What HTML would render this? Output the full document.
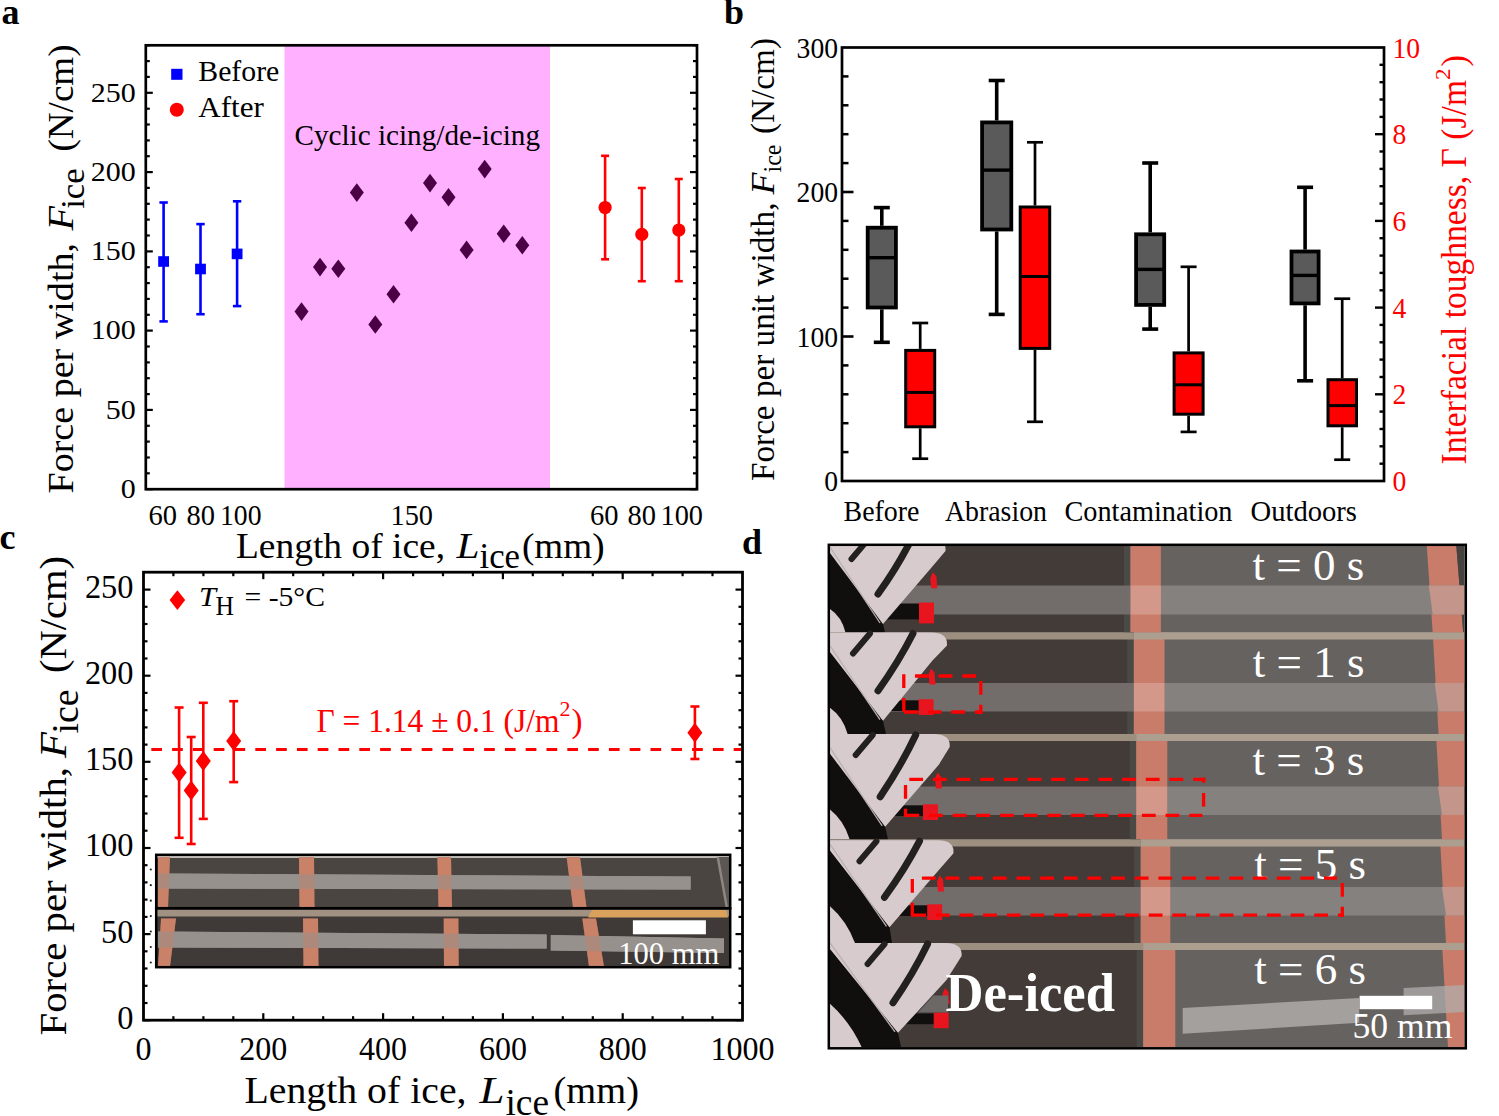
<!DOCTYPE html>
<html><head><meta charset="utf-8"><style>
html,body{margin:0;padding:0;background:#fff;overflow:hidden;width:1499px;height:1116px;}
svg{display:block;font-family:"Liberation Serif", serif;}
</style></head><body>
<svg width="1499" height="1116" viewBox="0 0 1499 1116">
<rect width="1499" height="1116" fill="#fff"/>
<text x="1.5" y="24.0" font-size="36" font-weight="bold">a</text>
<text x="724.0" y="24.0" font-size="36" font-weight="bold">b</text>
<text x="-0.5" y="548.5" font-size="36" font-weight="bold">c</text>
<text x="742.0" y="554.0" font-size="36" font-weight="bold">d</text>
<rect x="284.5" y="45.3" width="265.5" height="443.9" fill="#ffb1ff"/>
<line x1="145.8" y1="489.2" x2="152.8" y2="489.2" stroke="#000" stroke-width="2.2" />
<line x1="697.0" y1="489.2" x2="690.0" y2="489.2" stroke="#000" stroke-width="2.2" />
<line x1="145.8" y1="473.3" x2="149.8" y2="473.3" stroke="#000" stroke-width="2.2" />
<line x1="697.0" y1="473.3" x2="693.0" y2="473.3" stroke="#000" stroke-width="2.2" />
<line x1="145.8" y1="457.5" x2="149.8" y2="457.5" stroke="#000" stroke-width="2.2" />
<line x1="697.0" y1="457.5" x2="693.0" y2="457.5" stroke="#000" stroke-width="2.2" />
<line x1="145.8" y1="441.6" x2="149.8" y2="441.6" stroke="#000" stroke-width="2.2" />
<line x1="697.0" y1="441.6" x2="693.0" y2="441.6" stroke="#000" stroke-width="2.2" />
<line x1="145.8" y1="425.8" x2="149.8" y2="425.8" stroke="#000" stroke-width="2.2" />
<line x1="697.0" y1="425.8" x2="693.0" y2="425.8" stroke="#000" stroke-width="2.2" />
<line x1="145.8" y1="409.9" x2="152.8" y2="409.9" stroke="#000" stroke-width="2.2" />
<line x1="697.0" y1="409.9" x2="690.0" y2="409.9" stroke="#000" stroke-width="2.2" />
<line x1="145.8" y1="394.1" x2="149.8" y2="394.1" stroke="#000" stroke-width="2.2" />
<line x1="697.0" y1="394.1" x2="693.0" y2="394.1" stroke="#000" stroke-width="2.2" />
<line x1="145.8" y1="378.2" x2="149.8" y2="378.2" stroke="#000" stroke-width="2.2" />
<line x1="697.0" y1="378.2" x2="693.0" y2="378.2" stroke="#000" stroke-width="2.2" />
<line x1="145.8" y1="362.4" x2="149.8" y2="362.4" stroke="#000" stroke-width="2.2" />
<line x1="697.0" y1="362.4" x2="693.0" y2="362.4" stroke="#000" stroke-width="2.2" />
<line x1="145.8" y1="346.5" x2="149.8" y2="346.5" stroke="#000" stroke-width="2.2" />
<line x1="697.0" y1="346.5" x2="693.0" y2="346.5" stroke="#000" stroke-width="2.2" />
<line x1="145.8" y1="330.6" x2="152.8" y2="330.6" stroke="#000" stroke-width="2.2" />
<line x1="697.0" y1="330.6" x2="690.0" y2="330.6" stroke="#000" stroke-width="2.2" />
<line x1="145.8" y1="314.8" x2="149.8" y2="314.8" stroke="#000" stroke-width="2.2" />
<line x1="697.0" y1="314.8" x2="693.0" y2="314.8" stroke="#000" stroke-width="2.2" />
<line x1="145.8" y1="298.9" x2="149.8" y2="298.9" stroke="#000" stroke-width="2.2" />
<line x1="697.0" y1="298.9" x2="693.0" y2="298.9" stroke="#000" stroke-width="2.2" />
<line x1="145.8" y1="283.1" x2="149.8" y2="283.1" stroke="#000" stroke-width="2.2" />
<line x1="697.0" y1="283.1" x2="693.0" y2="283.1" stroke="#000" stroke-width="2.2" />
<line x1="145.8" y1="267.2" x2="149.8" y2="267.2" stroke="#000" stroke-width="2.2" />
<line x1="697.0" y1="267.2" x2="693.0" y2="267.2" stroke="#000" stroke-width="2.2" />
<line x1="145.8" y1="251.4" x2="152.8" y2="251.4" stroke="#000" stroke-width="2.2" />
<line x1="697.0" y1="251.4" x2="690.0" y2="251.4" stroke="#000" stroke-width="2.2" />
<line x1="145.8" y1="235.5" x2="149.8" y2="235.5" stroke="#000" stroke-width="2.2" />
<line x1="697.0" y1="235.5" x2="693.0" y2="235.5" stroke="#000" stroke-width="2.2" />
<line x1="145.8" y1="219.6" x2="149.8" y2="219.6" stroke="#000" stroke-width="2.2" />
<line x1="697.0" y1="219.6" x2="693.0" y2="219.6" stroke="#000" stroke-width="2.2" />
<line x1="145.8" y1="203.8" x2="149.8" y2="203.8" stroke="#000" stroke-width="2.2" />
<line x1="697.0" y1="203.8" x2="693.0" y2="203.8" stroke="#000" stroke-width="2.2" />
<line x1="145.8" y1="187.9" x2="149.8" y2="187.9" stroke="#000" stroke-width="2.2" />
<line x1="697.0" y1="187.9" x2="693.0" y2="187.9" stroke="#000" stroke-width="2.2" />
<line x1="145.8" y1="172.1" x2="152.8" y2="172.1" stroke="#000" stroke-width="2.2" />
<line x1="697.0" y1="172.1" x2="690.0" y2="172.1" stroke="#000" stroke-width="2.2" />
<line x1="145.8" y1="156.2" x2="149.8" y2="156.2" stroke="#000" stroke-width="2.2" />
<line x1="697.0" y1="156.2" x2="693.0" y2="156.2" stroke="#000" stroke-width="2.2" />
<line x1="145.8" y1="140.4" x2="149.8" y2="140.4" stroke="#000" stroke-width="2.2" />
<line x1="697.0" y1="140.4" x2="693.0" y2="140.4" stroke="#000" stroke-width="2.2" />
<line x1="145.8" y1="124.5" x2="149.8" y2="124.5" stroke="#000" stroke-width="2.2" />
<line x1="697.0" y1="124.5" x2="693.0" y2="124.5" stroke="#000" stroke-width="2.2" />
<line x1="145.8" y1="108.7" x2="149.8" y2="108.7" stroke="#000" stroke-width="2.2" />
<line x1="697.0" y1="108.7" x2="693.0" y2="108.7" stroke="#000" stroke-width="2.2" />
<line x1="145.8" y1="92.8" x2="152.8" y2="92.8" stroke="#000" stroke-width="2.2" />
<line x1="697.0" y1="92.8" x2="690.0" y2="92.8" stroke="#000" stroke-width="2.2" />
<line x1="145.8" y1="76.9" x2="149.8" y2="76.9" stroke="#000" stroke-width="2.2" />
<line x1="697.0" y1="76.9" x2="693.0" y2="76.9" stroke="#000" stroke-width="2.2" />
<line x1="145.8" y1="61.1" x2="149.8" y2="61.1" stroke="#000" stroke-width="2.2" />
<line x1="697.0" y1="61.1" x2="693.0" y2="61.1" stroke="#000" stroke-width="2.2" />
<line x1="145.8" y1="45.2" x2="149.8" y2="45.2" stroke="#000" stroke-width="2.2" />
<line x1="697.0" y1="45.2" x2="693.0" y2="45.2" stroke="#000" stroke-width="2.2" />
<rect x="145.8" y="45.3" width="551.2" height="443.9" fill="none" stroke="#000" stroke-width="2.7"/>
<text x="135.8" y="498.0" font-size="28" text-anchor="end" textLength="15.0" lengthAdjust="spacingAndGlyphs">0</text>
<text x="135.8" y="418.7" font-size="28" text-anchor="end" textLength="30.0" lengthAdjust="spacingAndGlyphs">50</text>
<text x="135.8" y="339.4" font-size="28" text-anchor="end" textLength="45.0" lengthAdjust="spacingAndGlyphs">100</text>
<text x="135.8" y="260.2" font-size="28" text-anchor="end" textLength="45.0" lengthAdjust="spacingAndGlyphs">150</text>
<text x="135.8" y="180.9" font-size="28" text-anchor="end" textLength="45.0" lengthAdjust="spacingAndGlyphs">200</text>
<text x="135.8" y="101.6" font-size="28" text-anchor="end" textLength="45.0" lengthAdjust="spacingAndGlyphs">250</text>
<text x="148.5" y="524.5" font-size="29" textLength="28.5" lengthAdjust="spacingAndGlyphs">60</text>
<text x="186.5" y="524.5" font-size="29" textLength="28.5" lengthAdjust="spacingAndGlyphs">80</text>
<text x="220.0" y="524.5" font-size="29" textLength="41.5" lengthAdjust="spacingAndGlyphs">100</text>
<text x="390.5" y="524.5" font-size="29" textLength="42.5" lengthAdjust="spacingAndGlyphs">150</text>
<text x="590.0" y="524.5" font-size="29" textLength="28.5" lengthAdjust="spacingAndGlyphs">60</text>
<text x="627.5" y="524.5" font-size="29" textLength="28.5" lengthAdjust="spacingAndGlyphs">80</text>
<text x="660.5" y="524.5" font-size="29" textLength="42.5" lengthAdjust="spacingAndGlyphs">100</text>
<text x="236.0" y="558.3" font-size="36.5" textLength="209.0" lengthAdjust="spacingAndGlyphs">Length of ice,</text>
<text x="456.5" y="558.3" font-size="36.5" font-style="italic" textLength="23.0" lengthAdjust="spacingAndGlyphs">L</text>
<text x="479.5" y="567.9" font-size="35" textLength="40.5" lengthAdjust="spacingAndGlyphs">ice</text>
<text x="522.0" y="558.3" font-size="36.5" textLength="82.5" lengthAdjust="spacingAndGlyphs">(mm)</text>
<text x="73.0" y="493.5" font-size="36" textLength="250.5" lengthAdjust="spacingAndGlyphs" transform="rotate(-90 73.0 493.5)">Force per width,</text>
<text x="73.0" y="230.5" font-size="36" font-style="italic" textLength="24.5" lengthAdjust="spacingAndGlyphs" transform="rotate(-90 73.0 230.5)">F</text>
<text x="84.0" y="208.8" font-size="34" textLength="40.3" lengthAdjust="spacingAndGlyphs" transform="rotate(-90 84.0 208.8)">ice</text>
<text x="73.0" y="151.5" font-size="36" textLength="107.0" lengthAdjust="spacingAndGlyphs" transform="rotate(-90 73.0 151.5)">(N/cm)</text>
<rect x="171.2" y="68.8" width="11.3" height="11.0" fill="#0000ff"/>
<text x="198.3" y="81.4" font-size="30" textLength="81.0" lengthAdjust="spacingAndGlyphs">Before</text>
<circle cx="176.8" cy="109.8" r="7" fill="#ff0000"/>
<text x="198.3" y="117.0" font-size="30" textLength="65.5" lengthAdjust="spacingAndGlyphs">After</text>
<text x="294.5" y="144.6" font-size="29" textLength="245.5" lengthAdjust="spacingAndGlyphs">Cyclic icing/de-icing</text>
<line x1="163.6" y1="202.5" x2="163.6" y2="321.4" stroke="#0000ff" stroke-width="2.6" />
<line x1="159.4" y1="202.5" x2="167.8" y2="202.5" stroke="#0000ff" stroke-width="2.6" />
<line x1="159.4" y1="321.4" x2="167.8" y2="321.4" stroke="#0000ff" stroke-width="2.6" />
<rect x="158.2" y="256.2" width="10.8" height="10.6" fill="#0000ff"/>
<line x1="200.5" y1="224.1" x2="200.5" y2="314.2" stroke="#0000ff" stroke-width="2.6" />
<line x1="196.3" y1="224.1" x2="204.7" y2="224.1" stroke="#0000ff" stroke-width="2.6" />
<line x1="196.3" y1="314.2" x2="204.7" y2="314.2" stroke="#0000ff" stroke-width="2.6" />
<rect x="195.1" y="263.7" width="10.8" height="10.6" fill="#0000ff"/>
<line x1="237.1" y1="201.3" x2="237.1" y2="306.1" stroke="#0000ff" stroke-width="2.6" />
<line x1="232.9" y1="201.3" x2="241.3" y2="201.3" stroke="#0000ff" stroke-width="2.6" />
<line x1="232.9" y1="306.1" x2="241.3" y2="306.1" stroke="#0000ff" stroke-width="2.6" />
<rect x="231.7" y="248.6" width="10.8" height="10.6" fill="#0000ff"/>
<line x1="605.1" y1="155.8" x2="605.1" y2="259.3" stroke="#ff0000" stroke-width="2.6" />
<line x1="601.1" y1="155.8" x2="609.1" y2="155.8" stroke="#ff0000" stroke-width="2.6" />
<line x1="601.1" y1="259.3" x2="609.1" y2="259.3" stroke="#ff0000" stroke-width="2.6" />
<circle cx="605.1" cy="207.5" r="6.6" fill="#ff0000"/>
<line x1="641.8" y1="188.0" x2="641.8" y2="281.2" stroke="#ff0000" stroke-width="2.6" />
<line x1="637.8" y1="188.0" x2="645.8" y2="188.0" stroke="#ff0000" stroke-width="2.6" />
<line x1="637.8" y1="281.2" x2="645.8" y2="281.2" stroke="#ff0000" stroke-width="2.6" />
<circle cx="641.8" cy="234.4" r="6.6" fill="#ff0000"/>
<line x1="678.8" y1="179.0" x2="678.8" y2="281.2" stroke="#ff0000" stroke-width="2.6" />
<line x1="674.8" y1="179.0" x2="682.8" y2="179.0" stroke="#ff0000" stroke-width="2.6" />
<line x1="674.8" y1="281.2" x2="682.8" y2="281.2" stroke="#ff0000" stroke-width="2.6" />
<circle cx="678.8" cy="230.0" r="6.6" fill="#ff0000"/>
<polygon points="301.5,302.3 308.5,311.6 301.5,320.9 294.5,311.6" fill="#4b0046" />
<polygon points="320.0,257.8 327.0,267.1 320.0,276.4 313.0,267.1" fill="#4b0046" />
<polygon points="338.3,259.5 345.3,268.8 338.3,278.1 331.3,268.8" fill="#4b0046" />
<polygon points="356.8,183.3 363.8,192.6 356.8,201.9 349.8,192.6" fill="#4b0046" />
<polygon points="375.3,315.2 382.3,324.5 375.3,333.8 368.3,324.5" fill="#4b0046" />
<polygon points="393.5,284.9 400.5,294.2 393.5,303.5 386.5,294.2" fill="#4b0046" />
<polygon points="411.4,213.5 418.4,222.8 411.4,232.1 404.4,222.8" fill="#4b0046" />
<polygon points="430.0,173.8 437.0,183.1 430.0,192.4 423.0,183.1" fill="#4b0046" />
<polygon points="448.5,187.9 455.5,197.2 448.5,206.5 441.5,197.2" fill="#4b0046" />
<polygon points="466.6,240.6 473.6,249.9 466.6,259.2 459.6,249.9" fill="#4b0046" />
<polygon points="484.7,159.8 491.7,169.1 484.7,178.4 477.7,169.1" fill="#4b0046" />
<polygon points="503.7,224.5 510.7,233.8 503.7,243.1 496.7,233.8" fill="#4b0046" />
<polygon points="522.3,236.0 529.3,245.3 522.3,254.6 515.3,245.3" fill="#4b0046" />
<line x1="842.0" y1="452.1" x2="848.5" y2="452.1" stroke="#000" stroke-width="2.5" />
<line x1="842.0" y1="423.2" x2="848.5" y2="423.2" stroke="#000" stroke-width="2.5" />
<line x1="842.0" y1="394.3" x2="848.5" y2="394.3" stroke="#000" stroke-width="2.5" />
<line x1="842.0" y1="365.4" x2="848.5" y2="365.4" stroke="#000" stroke-width="2.5" />
<line x1="842.0" y1="336.5" x2="853.5" y2="336.5" stroke="#000" stroke-width="2.6" />
<line x1="842.0" y1="307.6" x2="848.5" y2="307.6" stroke="#000" stroke-width="2.5" />
<line x1="842.0" y1="278.7" x2="848.5" y2="278.7" stroke="#000" stroke-width="2.5" />
<line x1="842.0" y1="249.8" x2="848.5" y2="249.8" stroke="#000" stroke-width="2.5" />
<line x1="842.0" y1="220.9" x2="848.5" y2="220.9" stroke="#000" stroke-width="2.5" />
<line x1="842.0" y1="192.0" x2="853.5" y2="192.0" stroke="#000" stroke-width="2.6" />
<line x1="842.0" y1="163.1" x2="848.5" y2="163.1" stroke="#000" stroke-width="2.5" />
<line x1="842.0" y1="134.2" x2="848.5" y2="134.2" stroke="#000" stroke-width="2.5" />
<line x1="842.0" y1="105.3" x2="848.5" y2="105.3" stroke="#000" stroke-width="2.5" />
<line x1="842.0" y1="76.4" x2="848.5" y2="76.4" stroke="#000" stroke-width="2.5" />
<line x1="1384.0" y1="463.7" x2="1379.5" y2="463.7" stroke="#000" stroke-width="2.4" />
<line x1="1384.0" y1="446.3" x2="1379.5" y2="446.3" stroke="#000" stroke-width="2.4" />
<line x1="1384.0" y1="429.0" x2="1379.5" y2="429.0" stroke="#000" stroke-width="2.4" />
<line x1="1384.0" y1="411.6" x2="1379.5" y2="411.6" stroke="#000" stroke-width="2.4" />
<line x1="1384.0" y1="394.3" x2="1375.0" y2="394.3" stroke="#000" stroke-width="2.4" />
<line x1="1384.0" y1="377.0" x2="1379.5" y2="377.0" stroke="#000" stroke-width="2.4" />
<line x1="1384.0" y1="359.6" x2="1379.5" y2="359.6" stroke="#000" stroke-width="2.4" />
<line x1="1384.0" y1="342.3" x2="1379.5" y2="342.3" stroke="#000" stroke-width="2.4" />
<line x1="1384.0" y1="324.9" x2="1379.5" y2="324.9" stroke="#000" stroke-width="2.4" />
<line x1="1384.0" y1="307.6" x2="1375.0" y2="307.6" stroke="#000" stroke-width="2.4" />
<line x1="1384.0" y1="290.3" x2="1379.5" y2="290.3" stroke="#000" stroke-width="2.4" />
<line x1="1384.0" y1="272.9" x2="1379.5" y2="272.9" stroke="#000" stroke-width="2.4" />
<line x1="1384.0" y1="255.6" x2="1379.5" y2="255.6" stroke="#000" stroke-width="2.4" />
<line x1="1384.0" y1="238.2" x2="1379.5" y2="238.2" stroke="#000" stroke-width="2.4" />
<line x1="1384.0" y1="220.9" x2="1375.0" y2="220.9" stroke="#000" stroke-width="2.4" />
<line x1="1384.0" y1="203.6" x2="1379.5" y2="203.6" stroke="#000" stroke-width="2.4" />
<line x1="1384.0" y1="186.2" x2="1379.5" y2="186.2" stroke="#000" stroke-width="2.4" />
<line x1="1384.0" y1="168.9" x2="1379.5" y2="168.9" stroke="#000" stroke-width="2.4" />
<line x1="1384.0" y1="151.5" x2="1379.5" y2="151.5" stroke="#000" stroke-width="2.4" />
<line x1="1384.0" y1="134.2" x2="1375.0" y2="134.2" stroke="#000" stroke-width="2.4" />
<line x1="1384.0" y1="116.9" x2="1379.5" y2="116.9" stroke="#000" stroke-width="2.4" />
<line x1="1384.0" y1="99.5" x2="1379.5" y2="99.5" stroke="#000" stroke-width="2.4" />
<line x1="1384.0" y1="82.2" x2="1379.5" y2="82.2" stroke="#000" stroke-width="2.4" />
<line x1="1384.0" y1="64.8" x2="1379.5" y2="64.8" stroke="#000" stroke-width="2.4" />
<rect x="842.0" y="47.5" width="542.0" height="433.5" fill="none" stroke="#000" stroke-width="2.7"/>
<text x="838.0" y="491.4" font-size="30" text-anchor="end" textLength="13.8" lengthAdjust="spacingAndGlyphs">0</text>
<text x="838.0" y="346.9" font-size="30" text-anchor="end" textLength="41.4" lengthAdjust="spacingAndGlyphs">100</text>
<text x="838.0" y="202.4" font-size="30" text-anchor="end" textLength="41.4" lengthAdjust="spacingAndGlyphs">200</text>
<text x="838.0" y="57.9" font-size="30" text-anchor="end" textLength="41.4" lengthAdjust="spacingAndGlyphs">300</text>
<text x="1392.5" y="491.0" font-size="30" fill="#ff0000" textLength="13.8" lengthAdjust="spacingAndGlyphs">0</text>
<text x="1392.5" y="404.3" font-size="30" fill="#ff0000" textLength="13.8" lengthAdjust="spacingAndGlyphs">2</text>
<text x="1392.5" y="317.6" font-size="30" fill="#ff0000" textLength="13.8" lengthAdjust="spacingAndGlyphs">4</text>
<text x="1392.5" y="230.9" font-size="30" fill="#ff0000" textLength="13.8" lengthAdjust="spacingAndGlyphs">6</text>
<text x="1392.5" y="144.2" font-size="30" fill="#ff0000" textLength="13.8" lengthAdjust="spacingAndGlyphs">8</text>
<text x="1392.5" y="57.5" font-size="30" fill="#ff0000" textLength="27.6" lengthAdjust="spacingAndGlyphs">10</text>
<line x1="881.8" y1="207.6" x2="881.8" y2="225.8" stroke="#000" stroke-width="3.6" />
<line x1="881.8" y1="309.4" x2="881.8" y2="342.3" stroke="#000" stroke-width="3.6" />
<line x1="873.8" y1="207.6" x2="889.8" y2="207.6" stroke="#000" stroke-width="3.6" />
<line x1="873.8" y1="342.3" x2="889.8" y2="342.3" stroke="#000" stroke-width="3.6" />
<rect x="867.7" y="227.7" width="28.2" height="79.8" fill="#5a5a5a" stroke="#000" stroke-width="3.8"/>
<line x1="867.0" y1="257.7" x2="896.6" y2="257.7" stroke="#000" stroke-width="3.4" />
<line x1="920.2" y1="323.0" x2="920.2" y2="348.9" stroke="#000" stroke-width="2.7" />
<line x1="920.2" y1="428.3" x2="920.2" y2="458.7" stroke="#000" stroke-width="2.7" />
<line x1="912.2" y1="323.0" x2="928.2" y2="323.0" stroke="#000" stroke-width="2.7" />
<line x1="912.2" y1="458.7" x2="928.2" y2="458.7" stroke="#000" stroke-width="2.7" />
<rect x="905.7" y="350.4" width="29.0" height="76.4" fill="#ff0000" stroke="#000" stroke-width="3.0"/>
<line x1="905.4" y1="392.4" x2="935.0" y2="392.4" stroke="#000" stroke-width="3.0" />
<line x1="996.7" y1="80.5" x2="996.7" y2="120.5" stroke="#000" stroke-width="3.6" />
<line x1="996.7" y1="231.4" x2="996.7" y2="314.4" stroke="#000" stroke-width="3.6" />
<line x1="988.7" y1="80.5" x2="1004.7" y2="80.5" stroke="#000" stroke-width="3.6" />
<line x1="988.7" y1="314.4" x2="1004.7" y2="314.4" stroke="#000" stroke-width="3.6" />
<rect x="982.1" y="122.4" width="29.2" height="107.1" fill="#5a5a5a" stroke="#000" stroke-width="3.8"/>
<line x1="981.4" y1="170.1" x2="1012.0" y2="170.1" stroke="#000" stroke-width="3.4" />
<line x1="1035.0" y1="142.3" x2="1035.0" y2="205.5" stroke="#000" stroke-width="2.7" />
<line x1="1035.0" y1="349.9" x2="1035.0" y2="421.8" stroke="#000" stroke-width="2.7" />
<line x1="1027.0" y1="142.3" x2="1043.0" y2="142.3" stroke="#000" stroke-width="2.7" />
<line x1="1027.0" y1="421.8" x2="1043.0" y2="421.8" stroke="#000" stroke-width="2.7" />
<rect x="1020.2" y="207.0" width="29.5" height="141.4" fill="#ff0000" stroke="#000" stroke-width="3.0"/>
<line x1="1019.9" y1="276.5" x2="1050.0" y2="276.5" stroke="#000" stroke-width="3.0" />
<line x1="1150.2" y1="163.0" x2="1150.2" y2="232.4" stroke="#000" stroke-width="3.6" />
<line x1="1150.2" y1="306.8" x2="1150.2" y2="329.1" stroke="#000" stroke-width="3.6" />
<line x1="1142.2" y1="163.0" x2="1158.2" y2="163.0" stroke="#000" stroke-width="3.6" />
<line x1="1142.2" y1="329.1" x2="1158.2" y2="329.1" stroke="#000" stroke-width="3.6" />
<rect x="1136.1" y="234.3" width="28.1" height="70.6" fill="#5a5a5a" stroke="#000" stroke-width="3.8"/>
<line x1="1135.4" y1="269.4" x2="1164.9" y2="269.4" stroke="#000" stroke-width="3.4" />
<line x1="1188.6" y1="266.8" x2="1188.6" y2="351.4" stroke="#000" stroke-width="2.7" />
<line x1="1188.6" y1="415.7" x2="1188.6" y2="431.9" stroke="#000" stroke-width="2.7" />
<line x1="1180.6" y1="266.8" x2="1196.6" y2="266.8" stroke="#000" stroke-width="2.7" />
<line x1="1180.6" y1="431.9" x2="1196.6" y2="431.9" stroke="#000" stroke-width="2.7" />
<rect x="1174.1" y="352.9" width="29.0" height="61.3" fill="#ff0000" stroke="#000" stroke-width="3.0"/>
<line x1="1173.8" y1="384.8" x2="1203.4" y2="384.8" stroke="#000" stroke-width="3.0" />
<line x1="1305.1" y1="187.3" x2="1305.1" y2="249.6" stroke="#000" stroke-width="3.6" />
<line x1="1305.1" y1="305.3" x2="1305.1" y2="380.8" stroke="#000" stroke-width="3.6" />
<line x1="1297.1" y1="187.3" x2="1313.1" y2="187.3" stroke="#000" stroke-width="3.6" />
<line x1="1297.1" y1="380.8" x2="1313.1" y2="380.8" stroke="#000" stroke-width="3.6" />
<rect x="1291.5" y="251.5" width="27.1" height="51.9" fill="#5a5a5a" stroke="#000" stroke-width="3.8"/>
<line x1="1290.8" y1="275.4" x2="1319.3" y2="275.4" stroke="#000" stroke-width="3.4" />
<line x1="1342.2" y1="298.7" x2="1342.2" y2="378.2" stroke="#000" stroke-width="2.7" />
<line x1="1342.2" y1="427.3" x2="1342.2" y2="459.7" stroke="#000" stroke-width="2.7" />
<line x1="1334.2" y1="298.7" x2="1350.2" y2="298.7" stroke="#000" stroke-width="2.7" />
<line x1="1334.2" y1="459.7" x2="1350.2" y2="459.7" stroke="#000" stroke-width="2.7" />
<rect x="1328.0" y="379.7" width="28.5" height="46.1" fill="#ff0000" stroke="#000" stroke-width="3.0"/>
<line x1="1327.7" y1="405.6" x2="1356.8" y2="405.6" stroke="#000" stroke-width="3.0" />
<text x="843.5" y="521.0" font-size="29" textLength="76.0" lengthAdjust="spacingAndGlyphs">Before</text>
<text x="945.0" y="521.0" font-size="29" textLength="102.0" lengthAdjust="spacingAndGlyphs">Abrasion</text>
<text x="1064.5" y="521.0" font-size="29" textLength="168.0" lengthAdjust="spacingAndGlyphs">Contamination</text>
<text x="1250.5" y="521.0" font-size="29" textLength="106.5" lengthAdjust="spacingAndGlyphs">Outdoors</text>
<text x="774.0" y="481.0" font-size="34" textLength="278.5" lengthAdjust="spacingAndGlyphs" transform="rotate(-90 774.0 481.0)">Force per unit width,</text>
<text x="774.0" y="194.5" font-size="34" font-style="italic" textLength="22.0" lengthAdjust="spacingAndGlyphs" transform="rotate(-90 774.0 194.5)">F</text>
<text x="781.0" y="172.5" font-size="25" textLength="28.0" lengthAdjust="spacingAndGlyphs" transform="rotate(-90 781.0 172.5)">ice</text>
<text x="774.0" y="134.0" font-size="34" textLength="96.0" lengthAdjust="spacingAndGlyphs" transform="rotate(-90 774.0 134.0)">(N/cm)</text>
<text x="1465.5" y="464.5" font-size="35" fill="#ff0000" textLength="384.5" lengthAdjust="spacingAndGlyphs" transform="rotate(-90 1465.5 464.5)">Interfacial toughness, Γ (J/m</text>
<text x="1450.0" y="80.0" font-size="22" fill="#ff0000" textLength="11.5" lengthAdjust="spacingAndGlyphs" transform="rotate(-90 1450.0 80.0)">2</text>
<text x="1465.5" y="66.5" font-size="35" fill="#ff0000" textLength="11.5" lengthAdjust="spacingAndGlyphs" transform="rotate(-90 1465.5 66.5)">)</text>
<line x1="143.5" y1="1020.2" x2="150.5" y2="1020.2" stroke="#000" stroke-width="2.2" />
<line x1="742.5" y1="1020.2" x2="735.5" y2="1020.2" stroke="#000" stroke-width="2.2" />
<line x1="143.5" y1="1003.0" x2="147.5" y2="1003.0" stroke="#000" stroke-width="2.2" />
<line x1="742.5" y1="1003.0" x2="738.5" y2="1003.0" stroke="#000" stroke-width="2.2" />
<line x1="143.5" y1="985.8" x2="147.5" y2="985.8" stroke="#000" stroke-width="2.2" />
<line x1="742.5" y1="985.8" x2="738.5" y2="985.8" stroke="#000" stroke-width="2.2" />
<line x1="143.5" y1="968.5" x2="147.5" y2="968.5" stroke="#000" stroke-width="2.2" />
<line x1="742.5" y1="968.5" x2="738.5" y2="968.5" stroke="#000" stroke-width="2.2" />
<line x1="143.5" y1="951.3" x2="147.5" y2="951.3" stroke="#000" stroke-width="2.2" />
<line x1="742.5" y1="951.3" x2="738.5" y2="951.3" stroke="#000" stroke-width="2.2" />
<line x1="143.5" y1="934.1" x2="150.5" y2="934.1" stroke="#000" stroke-width="2.2" />
<line x1="742.5" y1="934.1" x2="735.5" y2="934.1" stroke="#000" stroke-width="2.2" />
<line x1="143.5" y1="916.9" x2="147.5" y2="916.9" stroke="#000" stroke-width="2.2" />
<line x1="742.5" y1="916.9" x2="738.5" y2="916.9" stroke="#000" stroke-width="2.2" />
<line x1="143.5" y1="899.6" x2="147.5" y2="899.6" stroke="#000" stroke-width="2.2" />
<line x1="742.5" y1="899.6" x2="738.5" y2="899.6" stroke="#000" stroke-width="2.2" />
<line x1="143.5" y1="882.4" x2="147.5" y2="882.4" stroke="#000" stroke-width="2.2" />
<line x1="742.5" y1="882.4" x2="738.5" y2="882.4" stroke="#000" stroke-width="2.2" />
<line x1="143.5" y1="865.2" x2="147.5" y2="865.2" stroke="#000" stroke-width="2.2" />
<line x1="742.5" y1="865.2" x2="738.5" y2="865.2" stroke="#000" stroke-width="2.2" />
<line x1="143.5" y1="848.0" x2="150.5" y2="848.0" stroke="#000" stroke-width="2.2" />
<line x1="742.5" y1="848.0" x2="735.5" y2="848.0" stroke="#000" stroke-width="2.2" />
<line x1="143.5" y1="830.7" x2="147.5" y2="830.7" stroke="#000" stroke-width="2.2" />
<line x1="742.5" y1="830.7" x2="738.5" y2="830.7" stroke="#000" stroke-width="2.2" />
<line x1="143.5" y1="813.5" x2="147.5" y2="813.5" stroke="#000" stroke-width="2.2" />
<line x1="742.5" y1="813.5" x2="738.5" y2="813.5" stroke="#000" stroke-width="2.2" />
<line x1="143.5" y1="796.3" x2="147.5" y2="796.3" stroke="#000" stroke-width="2.2" />
<line x1="742.5" y1="796.3" x2="738.5" y2="796.3" stroke="#000" stroke-width="2.2" />
<line x1="143.5" y1="779.1" x2="147.5" y2="779.1" stroke="#000" stroke-width="2.2" />
<line x1="742.5" y1="779.1" x2="738.5" y2="779.1" stroke="#000" stroke-width="2.2" />
<line x1="143.5" y1="761.8" x2="150.5" y2="761.8" stroke="#000" stroke-width="2.2" />
<line x1="742.5" y1="761.8" x2="735.5" y2="761.8" stroke="#000" stroke-width="2.2" />
<line x1="143.5" y1="744.6" x2="147.5" y2="744.6" stroke="#000" stroke-width="2.2" />
<line x1="742.5" y1="744.6" x2="738.5" y2="744.6" stroke="#000" stroke-width="2.2" />
<line x1="143.5" y1="727.4" x2="147.5" y2="727.4" stroke="#000" stroke-width="2.2" />
<line x1="742.5" y1="727.4" x2="738.5" y2="727.4" stroke="#000" stroke-width="2.2" />
<line x1="143.5" y1="710.2" x2="147.5" y2="710.2" stroke="#000" stroke-width="2.2" />
<line x1="742.5" y1="710.2" x2="738.5" y2="710.2" stroke="#000" stroke-width="2.2" />
<line x1="143.5" y1="692.9" x2="147.5" y2="692.9" stroke="#000" stroke-width="2.2" />
<line x1="742.5" y1="692.9" x2="738.5" y2="692.9" stroke="#000" stroke-width="2.2" />
<line x1="143.5" y1="675.7" x2="150.5" y2="675.7" stroke="#000" stroke-width="2.2" />
<line x1="742.5" y1="675.7" x2="735.5" y2="675.7" stroke="#000" stroke-width="2.2" />
<line x1="143.5" y1="658.5" x2="147.5" y2="658.5" stroke="#000" stroke-width="2.2" />
<line x1="742.5" y1="658.5" x2="738.5" y2="658.5" stroke="#000" stroke-width="2.2" />
<line x1="143.5" y1="641.3" x2="147.5" y2="641.3" stroke="#000" stroke-width="2.2" />
<line x1="742.5" y1="641.3" x2="738.5" y2="641.3" stroke="#000" stroke-width="2.2" />
<line x1="143.5" y1="624.0" x2="147.5" y2="624.0" stroke="#000" stroke-width="2.2" />
<line x1="742.5" y1="624.0" x2="738.5" y2="624.0" stroke="#000" stroke-width="2.2" />
<line x1="143.5" y1="606.8" x2="147.5" y2="606.8" stroke="#000" stroke-width="2.2" />
<line x1="742.5" y1="606.8" x2="738.5" y2="606.8" stroke="#000" stroke-width="2.2" />
<line x1="143.5" y1="589.6" x2="150.5" y2="589.6" stroke="#000" stroke-width="2.2" />
<line x1="742.5" y1="589.6" x2="735.5" y2="589.6" stroke="#000" stroke-width="2.2" />
<line x1="173.4" y1="1020.2" x2="173.4" y2="1016.2" stroke="#000" stroke-width="2.2" />
<line x1="173.4" y1="572.2" x2="173.4" y2="576.2" stroke="#000" stroke-width="2.2" />
<line x1="203.4" y1="1020.2" x2="203.4" y2="1016.2" stroke="#000" stroke-width="2.2" />
<line x1="203.4" y1="572.2" x2="203.4" y2="576.2" stroke="#000" stroke-width="2.2" />
<line x1="233.3" y1="1020.2" x2="233.3" y2="1016.2" stroke="#000" stroke-width="2.2" />
<line x1="233.3" y1="572.2" x2="233.3" y2="576.2" stroke="#000" stroke-width="2.2" />
<line x1="263.3" y1="1020.2" x2="263.3" y2="1013.2" stroke="#000" stroke-width="2.2" />
<line x1="263.3" y1="572.2" x2="263.3" y2="579.2" stroke="#000" stroke-width="2.2" />
<line x1="293.2" y1="1020.2" x2="293.2" y2="1016.2" stroke="#000" stroke-width="2.2" />
<line x1="293.2" y1="572.2" x2="293.2" y2="576.2" stroke="#000" stroke-width="2.2" />
<line x1="323.2" y1="1020.2" x2="323.2" y2="1016.2" stroke="#000" stroke-width="2.2" />
<line x1="323.2" y1="572.2" x2="323.2" y2="576.2" stroke="#000" stroke-width="2.2" />
<line x1="353.1" y1="1020.2" x2="353.1" y2="1016.2" stroke="#000" stroke-width="2.2" />
<line x1="353.1" y1="572.2" x2="353.1" y2="576.2" stroke="#000" stroke-width="2.2" />
<line x1="383.1" y1="1020.2" x2="383.1" y2="1013.2" stroke="#000" stroke-width="2.2" />
<line x1="383.1" y1="572.2" x2="383.1" y2="579.2" stroke="#000" stroke-width="2.2" />
<line x1="413.1" y1="1020.2" x2="413.1" y2="1016.2" stroke="#000" stroke-width="2.2" />
<line x1="413.1" y1="572.2" x2="413.1" y2="576.2" stroke="#000" stroke-width="2.2" />
<line x1="443.0" y1="1020.2" x2="443.0" y2="1016.2" stroke="#000" stroke-width="2.2" />
<line x1="443.0" y1="572.2" x2="443.0" y2="576.2" stroke="#000" stroke-width="2.2" />
<line x1="472.9" y1="1020.2" x2="472.9" y2="1016.2" stroke="#000" stroke-width="2.2" />
<line x1="472.9" y1="572.2" x2="472.9" y2="576.2" stroke="#000" stroke-width="2.2" />
<line x1="502.9" y1="1020.2" x2="502.9" y2="1013.2" stroke="#000" stroke-width="2.2" />
<line x1="502.9" y1="572.2" x2="502.9" y2="579.2" stroke="#000" stroke-width="2.2" />
<line x1="532.8" y1="1020.2" x2="532.8" y2="1016.2" stroke="#000" stroke-width="2.2" />
<line x1="532.8" y1="572.2" x2="532.8" y2="576.2" stroke="#000" stroke-width="2.2" />
<line x1="562.8" y1="1020.2" x2="562.8" y2="1016.2" stroke="#000" stroke-width="2.2" />
<line x1="562.8" y1="572.2" x2="562.8" y2="576.2" stroke="#000" stroke-width="2.2" />
<line x1="592.8" y1="1020.2" x2="592.8" y2="1016.2" stroke="#000" stroke-width="2.2" />
<line x1="592.8" y1="572.2" x2="592.8" y2="576.2" stroke="#000" stroke-width="2.2" />
<line x1="622.7" y1="1020.2" x2="622.7" y2="1013.2" stroke="#000" stroke-width="2.2" />
<line x1="622.7" y1="572.2" x2="622.7" y2="579.2" stroke="#000" stroke-width="2.2" />
<line x1="652.6" y1="1020.2" x2="652.6" y2="1016.2" stroke="#000" stroke-width="2.2" />
<line x1="652.6" y1="572.2" x2="652.6" y2="576.2" stroke="#000" stroke-width="2.2" />
<line x1="682.6" y1="1020.2" x2="682.6" y2="1016.2" stroke="#000" stroke-width="2.2" />
<line x1="682.6" y1="572.2" x2="682.6" y2="576.2" stroke="#000" stroke-width="2.2" />
<line x1="712.5" y1="1020.2" x2="712.5" y2="1016.2" stroke="#000" stroke-width="2.2" />
<line x1="712.5" y1="572.2" x2="712.5" y2="576.2" stroke="#000" stroke-width="2.2" />
<rect x="143.5" y="572.2" width="599.0" height="448.0" fill="none" stroke="#000" stroke-width="2.8"/>
<text x="133.5" y="1028.6" font-size="33" text-anchor="end" textLength="16.2" lengthAdjust="spacingAndGlyphs">0</text>
<text x="133.5" y="942.5" font-size="33" text-anchor="end" textLength="32.4" lengthAdjust="spacingAndGlyphs">50</text>
<text x="133.5" y="856.4" font-size="33" text-anchor="end" textLength="48.6" lengthAdjust="spacingAndGlyphs">100</text>
<text x="133.5" y="770.2" font-size="33" text-anchor="end" textLength="48.6" lengthAdjust="spacingAndGlyphs">150</text>
<text x="133.5" y="684.1" font-size="33" text-anchor="end" textLength="48.6" lengthAdjust="spacingAndGlyphs">200</text>
<text x="133.5" y="598.0" font-size="33" text-anchor="end" textLength="48.6" lengthAdjust="spacingAndGlyphs">250</text>
<text x="143.5" y="1060.0" font-size="33" text-anchor="middle" textLength="16.0" lengthAdjust="spacingAndGlyphs">0</text>
<text x="263.3" y="1060.0" font-size="33" text-anchor="middle" textLength="48.0" lengthAdjust="spacingAndGlyphs">200</text>
<text x="383.1" y="1060.0" font-size="33" text-anchor="middle" textLength="48.0" lengthAdjust="spacingAndGlyphs">400</text>
<text x="502.9" y="1060.0" font-size="33" text-anchor="middle" textLength="48.0" lengthAdjust="spacingAndGlyphs">600</text>
<text x="622.7" y="1060.0" font-size="33" text-anchor="middle" textLength="48.0" lengthAdjust="spacingAndGlyphs">800</text>
<text x="742.5" y="1060.0" font-size="33" text-anchor="middle" textLength="64.0" lengthAdjust="spacingAndGlyphs">1000</text>
<text x="244.5" y="1103.0" font-size="38.5" textLength="222.0" lengthAdjust="spacingAndGlyphs">Length of ice,</text>
<text x="479.5" y="1103.0" font-size="38.5" font-style="italic" textLength="25.0" lengthAdjust="spacingAndGlyphs">L</text>
<text x="505.5" y="1115.0" font-size="37" textLength="43.5" lengthAdjust="spacingAndGlyphs">ice</text>
<text x="553.5" y="1103.0" font-size="38.5" textLength="85.5" lengthAdjust="spacingAndGlyphs">(mm)</text>
<text x="65.9" y="1035.5" font-size="38.5" textLength="268.5" lengthAdjust="spacingAndGlyphs" transform="rotate(-90 65.9 1035.5)">Force per width,</text>
<text x="65.9" y="758.0" font-size="38.5" font-style="italic" textLength="26.0" lengthAdjust="spacingAndGlyphs" transform="rotate(-90 65.9 758.0)">F</text>
<text x="78.0" y="733.5" font-size="37" textLength="44.0" lengthAdjust="spacingAndGlyphs" transform="rotate(-90 78.0 733.5)">ice</text>
<text x="65.9" y="673.0" font-size="38.5" textLength="117.0" lengthAdjust="spacingAndGlyphs" transform="rotate(-90 65.9 673.0)">(N/cm)</text>
<line x1="151.3" y1="749.5" x2="741.0" y2="749.5" stroke="#ff0000" stroke-width="3.0" stroke-dasharray="10.7 10.1"/>
<text x="316.5" y="732.0" font-size="33" fill="#ff0000" textLength="243.0" lengthAdjust="spacingAndGlyphs">Γ = 1.14 ± 0.1 (J/m</text>
<text x="559.5" y="716.0" font-size="22" fill="#ff0000" textLength="11.0" lengthAdjust="spacingAndGlyphs">2</text>
<text x="571.5" y="732.0" font-size="33" fill="#ff0000" textLength="11.0" lengthAdjust="spacingAndGlyphs">)</text>
<polygon points="177.4,590.2 185.2,600.1 177.4,610.0 169.6,600.1" fill="#ff0000" />
<text x="199.0" y="606.4" font-size="27.5" font-style="italic" textLength="17.0" lengthAdjust="spacingAndGlyphs">T</text>
<text x="215.5" y="615.4" font-size="27.5" textLength="18.5" lengthAdjust="spacingAndGlyphs">H</text>
<text x="244.5" y="606.4" font-size="27.5" textLength="80.5" lengthAdjust="spacingAndGlyphs">= -5°C</text>
<line x1="179.1" y1="707.5" x2="179.1" y2="837.8" stroke="#ff0000" stroke-width="2.6" />
<line x1="174.6" y1="707.5" x2="183.6" y2="707.5" stroke="#ff0000" stroke-width="2.6" />
<line x1="174.6" y1="837.8" x2="183.6" y2="837.8" stroke="#ff0000" stroke-width="2.6" />
<polygon points="179.1,762.6 186.6,772.6 179.1,782.6 171.6,772.6" fill="#ff0000" />
<line x1="191.2" y1="737.0" x2="191.2" y2="844.0" stroke="#ff0000" stroke-width="2.6" />
<line x1="186.7" y1="737.0" x2="195.7" y2="737.0" stroke="#ff0000" stroke-width="2.6" />
<line x1="186.7" y1="844.0" x2="195.7" y2="844.0" stroke="#ff0000" stroke-width="2.6" />
<polygon points="191.2,780.5 198.7,790.5 191.2,800.5 183.7,790.5" fill="#ff0000" />
<line x1="203.3" y1="702.8" x2="203.3" y2="818.9" stroke="#ff0000" stroke-width="2.6" />
<line x1="198.8" y1="702.8" x2="207.8" y2="702.8" stroke="#ff0000" stroke-width="2.6" />
<line x1="198.8" y1="818.9" x2="207.8" y2="818.9" stroke="#ff0000" stroke-width="2.6" />
<polygon points="203.3,751.1 210.8,761.1 203.3,771.1 195.8,761.1" fill="#ff0000" />
<line x1="233.7" y1="701.2" x2="233.7" y2="782.1" stroke="#ff0000" stroke-width="2.6" />
<line x1="229.2" y1="701.2" x2="238.2" y2="701.2" stroke="#ff0000" stroke-width="2.6" />
<line x1="229.2" y1="782.1" x2="238.2" y2="782.1" stroke="#ff0000" stroke-width="2.6" />
<polygon points="233.7,731.1 241.2,741.1 233.7,751.1 226.2,741.1" fill="#ff0000" />
<line x1="694.9" y1="706.5" x2="694.9" y2="759.0" stroke="#ff0000" stroke-width="2.6" />
<line x1="690.4" y1="706.5" x2="699.4" y2="706.5" stroke="#ff0000" stroke-width="2.6" />
<line x1="690.4" y1="759.0" x2="699.4" y2="759.0" stroke="#ff0000" stroke-width="2.6" />
<polygon points="694.9,722.7 702.4,732.7 694.9,742.7 687.4,732.7" fill="#ff0000" />
<clipPath id="iclip"><rect x="157" y="855.5" width="572" height="111"/></clipPath>
<g clip-path="url(#iclip)">
<rect x="157.0" y="855.5" width="572.0" height="52.0" fill="#4b4542"/>
<rect x="157.0" y="855.5" width="572.0" height="2.5" fill="#c0bcb8"/>
<polygon points="717.0,857.0 729.0,857.0 729.0,907.0 726.0,907.0" fill="#5c5654" />
<polygon points="716.5,857.0 719.0,857.0 728.0,907.0 725.5,907.0" fill="#8d8782" />
<polygon points="158.0,873.5 690.6,876.5 690.6,889.5 158.0,888.5" fill="#96918d" />
<polygon points="158.0,857.0 170.0,857.0 168.0,907.5 158.0,907.5" fill="#c98168" />
<polygon points="299.0,857.0 314.0,857.0 314.5,907.5 299.5,907.5" fill="#c98168" />
<polygon points="437.4,857.0 451.0,857.0 452.0,907.5 438.5,907.5" fill="#c98168" />
<polygon points="566.6,857.0 580.0,857.0 586.5,907.5 573.0,907.5" fill="#c98168" />
<polygon points="158.0,873.5 690.6,876.5 690.6,889.5 158.0,888.5" fill="#96918d" />
<polygon points="158.0,857.0 170.0,857.0 168.0,907.5 158.0,907.5" fill="#c98168" opacity="0.45"/>
<polygon points="299.0,857.0 314.0,857.0 314.5,907.5 299.5,907.5" fill="#c98168" opacity="0.45"/>
<polygon points="437.4,857.0 451.0,857.0 452.0,907.5 438.5,907.5" fill="#c98168" opacity="0.45"/>
<polygon points="566.6,857.0 580.0,857.0 586.5,907.5 573.0,907.5" fill="#c98168" opacity="0.45"/>
<rect x="157.0" y="909.5" width="572.0" height="57.0" fill="#3f3a38"/>
<rect x="157.0" y="909.5" width="572.0" height="7.0" fill="#a09182"/>
<polygon points="591.8,910.0 726.0,910.0 728.0,917.6 588.0,917.6" fill="#d9a15c" />
<polygon points="158.0,931.5 546.6,934.5 546.6,948.5 158.0,947.5" fill="#96918d" />
<polygon points="550.8,935.0 724.0,938.5 724.0,953.0 550.8,950.5" fill="#96918d" />
<polygon points="161.0,918.5 176.0,918.5 170.0,966.5 158.0,966.5" fill="#c98168" />
<polygon points="303.0,918.5 318.0,918.5 318.5,966.5 303.5,966.5" fill="#c98168" />
<polygon points="443.7,918.5 458.4,918.5 458.7,966.5 444.0,966.5" fill="#c98168" />
<polygon points="582.3,918.5 596.0,918.5 604.0,966.5 589.0,966.5" fill="#c98168" />
<polygon points="158.0,931.5 546.6,934.5 546.6,948.5 158.0,947.5" fill="#96918d" />
<polygon points="550.8,935.0 724.0,938.5 724.0,953.0 550.8,950.5" fill="#96918d" />
<polygon points="161.0,918.5 176.0,918.5 170.0,966.5 158.0,966.5" fill="#c98168" opacity="0.45"/>
<polygon points="303.0,918.5 318.0,918.5 318.5,966.5 303.5,966.5" fill="#c98168" opacity="0.45"/>
<polygon points="443.7,918.5 458.4,918.5 458.7,966.5 444.0,966.5" fill="#c98168" opacity="0.45"/>
<polygon points="582.3,918.5 596.0,918.5 604.0,966.5 589.0,966.5" fill="#c98168" opacity="0.45"/>
</g>
<circle cx="150.8" cy="869.5" r="1.1" fill="#222"/>
<circle cx="150.8" cy="885.2" r="1.1" fill="#222"/>
<circle cx="150.8" cy="900.7" r="1.1" fill="#222"/>
<circle cx="150.8" cy="916.1" r="1.1" fill="#222"/>
<circle cx="150.8" cy="931.5" r="1.1" fill="#222"/>
<circle cx="150.8" cy="947.0" r="1.1" fill="#222"/>
<circle cx="150.8" cy="962.5" r="1.1" fill="#222"/>
<rect x="156.2" y="854.8" width="574.0" height="53.5" fill="none" stroke="#000" stroke-width="2.5"/>
<rect x="156.2" y="908.2" width="574.0" height="59.0" fill="none" stroke="#000" stroke-width="2.5"/>
<rect x="632.9" y="920.3" width="73.0" height="14.0" fill="#ffffff"/>
<text x="618.3" y="964.0" font-size="32" fill="#ffffff" textLength="101.0" lengthAdjust="spacingAndGlyphs">100 mm</text>
<g>
<clipPath id="dclip"><rect x="830.0" y="546.0" width="634.5" height="501.0"/></clipPath>
<linearGradient id="iceg" x1="890" y1="0" x2="1465" y2="0" gradientUnits="userSpaceOnUse"><stop offset="0" stop-color="#57524f"/><stop offset="0.4" stop-color="#625e5c"/><stop offset="1" stop-color="#716e6c"/></linearGradient>
<g clip-path="url(#dclip)">
<rect x="830.0" y="546.0" width="300.5" height="86.5" fill="#433b37"/>
<rect x="1130.5" y="546.0" width="334.0" height="86.5" fill="#666260"/>
<rect x="1124.0" y="546.0" width="6.5" height="86.5" fill="#4a4946"/>
<rect x="1130.5" y="546.0" width="30.4" height="86.5" fill="#c97c69"/>
<polygon points="1426.8,546.0 1456.3,546.0 1463.2,632.5 1432.7,632.5" fill="#c97c69" />
<polygon points="1456.3,546.0 1464.5,546.0 1464.5,632.5 1463.2,632.5" fill="#454240" />
<rect x="890.0" y="585.5" width="240.5" height="29.0" fill="#726d6a"/>
<rect x="1160.9" y="585.5" width="303.6" height="29.0" fill="#85817f"/>
<rect x="1130.5" y="585.5" width="30.4" height="29.0" fill="#d3988a"/>
<polygon points="1428.8,585.5 1464.5,585.5 1464.5,614.5 1432.7,614.5" fill="#c4958b" />
<rect x="870.0" y="603.5" width="50.0" height="15.9" fill="#100f0d"/>
<polygon points="830.0,553.0 883.0,624.0 885.0,632.5 845.5,632.5 830.0,609.0" fill="#100f0d" />
<path d="M830.0,609.0 Q841.8,616.8 845.5,632.5 L830,632.5 Z" fill="#d7cbcd"/>
<path d="M830,538.0 L929.5,538.0 Q946.5,538.0 945.5,551.0 L934.3,564.3 L883.0,624.0 L830,553.0 Z" fill="#d7cbcd"/>
<path d="M830,547.0 L880.0,623.0" fill="none" stroke="#b9b1b2" stroke-width="1.3"/>
<path d="M911.5,539.0 Q897.8,566.5 878.0,594.0" fill="none" stroke="#23211e" stroke-width="7" stroke-linecap="round"/>
<path d="M868.5,539.0 L851.5,559.0" fill="none" stroke="#23211e" stroke-width="6" stroke-linecap="round"/>
<polygon points="932.8,572.3 936.3,576.3 937.3,588.3 931.3,588.3 930.3,578.3" fill="#e8141e" />
<rect x="919.0" y="602.5" width="15.0" height="20.9" fill="#e8141e"/>
<rect x="830.0" y="632.5" width="303.8" height="101.5" fill="#433b37"/>
<rect x="1133.8" y="632.5" width="330.7" height="101.5" fill="#666260"/>
<rect x="1127.3" y="632.5" width="6.5" height="101.5" fill="#4a4946"/>
<rect x="1133.8" y="632.5" width="30.7" height="101.5" fill="#c97c69"/>
<polygon points="1432.7,632.5 1470.0,632.5 1470.0,734.0 1438.6,734.0" fill="#c97c69" />
<rect x="890.0" y="683.0" width="243.8" height="28.5" fill="#726d6a"/>
<rect x="1164.5" y="683.0" width="300.0" height="28.5" fill="#85817f"/>
<rect x="1133.8" y="683.0" width="30.7" height="28.5" fill="#d3988a"/>
<polygon points="1434.7,683.0 1464.5,683.0 1464.5,711.5 1438.6,711.5" fill="#c4958b" />
<rect x="830.0" y="632.5" width="303.8" height="7.0" fill="#9d8f80"/>
<rect x="1133.8" y="632.5" width="330.7" height="7.0" fill="#ad9f90"/>
<rect x="870.0" y="700.3" width="49.6" height="10.7" fill="#100f0d"/>
<polygon points="830.0,651.9 883.0,720.7 886.0,734.0 847.6,734.0 830.0,707.8" fill="#100f0d" />
<path d="M830.0,707.8 Q842.8,716.9 847.6,734.0 L830,734.0 Z" fill="#d7cbcd"/>
<path d="M830,632.5 L931.0,632.5 Q948.0,632.5 947.0,645.5 L932.5,660.5 L883.0,720.7 L830,651.9 Z" fill="#d7cbcd"/>
<path d="M830,645.9 L880.0,719.7" fill="none" stroke="#b9b1b2" stroke-width="1.3"/>
<path d="M913.0,633.5 Q898.5,662.1 878.0,690.7" fill="none" stroke="#23211e" stroke-width="7" stroke-linecap="round"/>
<path d="M870.0,633.5 L853.0,653.5" fill="none" stroke="#23211e" stroke-width="6" stroke-linecap="round"/>
<polygon points="931.0,668.5 934.5,672.5 935.5,684.5 929.5,684.5 928.5,674.5" fill="#e8141e" />
<rect x="918.6" y="699.3" width="15.0" height="15.7" fill="#e8141e"/>
<rect x="830.0" y="734.0" width="306.3" height="105.5" fill="#433b37"/>
<rect x="1136.3" y="734.0" width="328.2" height="105.5" fill="#666260"/>
<rect x="1129.8" y="734.0" width="6.5" height="105.5" fill="#4a4946"/>
<rect x="1136.3" y="734.0" width="31.0" height="105.5" fill="#c97c69"/>
<polygon points="1436.0,734.0 1470.0,734.0 1470.0,839.5 1442.0,839.5" fill="#c97c69" />
<rect x="890.0" y="786.5" width="246.3" height="28.5" fill="#726d6a"/>
<rect x="1167.3" y="786.5" width="297.2" height="28.5" fill="#85817f"/>
<rect x="1136.3" y="786.5" width="31.0" height="28.5" fill="#d3988a"/>
<polygon points="1438.0,786.5 1464.5,786.5 1464.5,815.0 1442.0,815.0" fill="#c4958b" />
<rect x="830.0" y="734.0" width="306.3" height="7.0" fill="#9d8f80"/>
<rect x="1136.3" y="734.0" width="328.2" height="7.0" fill="#ad9f90"/>
<rect x="870.0" y="805.3" width="54.0" height="10.7" fill="#100f0d"/>
<polygon points="830.0,753.7 885.2,826.8 888.0,839.5 849.7,839.5 830.0,809.6" fill="#100f0d" />
<path d="M830.0,809.6 Q843.9,820.5 849.7,839.5 L830,839.5 Z" fill="#d7cbcd"/>
<path d="M830,734.0 L933.7,734.0 Q950.7,734.0 949.7,747.0 L939.0,764.4 L885.2,826.8 L830,753.7 Z" fill="#d7cbcd"/>
<path d="M830,747.7 L882.2,825.8" fill="none" stroke="#b9b1b2" stroke-width="1.3"/>
<path d="M915.7,735.0 Q901.0,765.9 880.2,796.8" fill="none" stroke="#23211e" stroke-width="7" stroke-linecap="round"/>
<path d="M872.7,735.0 L855.7,755.0" fill="none" stroke="#23211e" stroke-width="6" stroke-linecap="round"/>
<polygon points="937.5,772.4 941.0,776.4 942.0,788.4 936.0,788.4 935.0,778.4" fill="#e8141e" />
<rect x="923.0" y="804.3" width="15.0" height="15.7" fill="#e8141e"/>
<rect x="830.0" y="839.5" width="310.7" height="103.5" fill="#433b37"/>
<rect x="1140.7" y="839.5" width="323.8" height="103.5" fill="#666260"/>
<rect x="1134.2" y="839.5" width="6.5" height="103.5" fill="#4a4946"/>
<rect x="1140.7" y="839.5" width="29.6" height="103.5" fill="#c97c69"/>
<polygon points="1440.0,839.5 1470.0,839.5 1470.0,943.0 1446.0,943.0" fill="#c97c69" />
<rect x="890.0" y="887.0" width="250.7" height="28.5" fill="#726d6a"/>
<rect x="1170.3" y="887.0" width="294.2" height="28.5" fill="#85817f"/>
<rect x="1140.7" y="887.0" width="29.6" height="28.5" fill="#d3988a"/>
<polygon points="1442.0,887.0 1464.5,887.0 1464.5,915.5 1446.0,915.5" fill="#c4958b" />
<rect x="830.0" y="839.5" width="310.7" height="7.0" fill="#9d8f80"/>
<rect x="1140.7" y="839.5" width="323.8" height="7.0" fill="#ad9f90"/>
<rect x="870.0" y="905.3" width="58.2" height="10.7" fill="#100f0d"/>
<polygon points="830.0,850.4 889.5,927.3 892.0,943.0 855.0,943.0 830.0,906.3" fill="#100f0d" />
<path d="M830.0,906.3 Q846.5,920.6 855.0,943.0 L830,943.0 Z" fill="#d7cbcd"/>
<path d="M830,840.2 L937.5,840.2 Q954.5,840.2 953.5,853.2 L941.0,867.6 L889.5,927.3 L830,850.4 Z" fill="#d7cbcd"/>
<path d="M830,844.4 L886.5,926.3" fill="none" stroke="#b9b1b2" stroke-width="1.3"/>
<path d="M919.5,841.2 Q905.0,869.2 884.5,897.3" fill="none" stroke="#23211e" stroke-width="7" stroke-linecap="round"/>
<path d="M876.5,841.2 L859.5,861.2" fill="none" stroke="#23211e" stroke-width="6" stroke-linecap="round"/>
<polygon points="939.5,875.6 943.0,879.6 944.0,891.6 938.0,891.6 937.0,881.6" fill="#e8141e" />
<rect x="927.2" y="904.3" width="15.0" height="15.7" fill="#e8141e"/>
<rect x="830.0" y="943.0" width="313.2" height="104.0" fill="#433b37"/>
<rect x="1143.2" y="943.0" width="321.3" height="104.0" fill="#666260"/>
<rect x="1136.7" y="943.0" width="6.5" height="104.0" fill="#4a4946"/>
<rect x="1143.2" y="943.0" width="32.1" height="104.0" fill="#c97c69"/>
<polygon points="1442.0,943.0 1470.0,943.0 1470.0,1047.0 1448.0,1047.0" fill="#c97c69" />
<rect x="830.0" y="943.0" width="313.2" height="7.0" fill="#9d8f80"/>
<rect x="1143.2" y="943.0" width="321.3" height="7.0" fill="#ad9f90"/>
<rect x="870.0" y="1013.5" width="64.7" height="10.7" fill="#100f0d"/>
<polygon points="830.0,949.0 898.0,1032.8 901.0,1047.0 861.6,1047.0 830.0,1003.8" fill="#100f0d" />
<path d="M830.0,1003.8 Q849.8,1021.4 861.6,1047.0 L830,1047.0 Z" fill="#d7cbcd"/>
<path d="M830,943.0 L945.6,943.0 Q962.6,943.0 961.6,956.0 L946.5,980.0 L898.0,1032.8 L830,949.0 Z" fill="#d7cbcd"/>
<path d="M830,943.0 L895.0,1031.8" fill="none" stroke="#b9b1b2" stroke-width="1.3"/>
<path d="M927.6,944.0 Q913.3,973.4 893.0,1002.8" fill="none" stroke="#23211e" stroke-width="7" stroke-linecap="round"/>
<path d="M884.6,944.0 L867.6,964.0" fill="none" stroke="#23211e" stroke-width="6" stroke-linecap="round"/>
<polygon points="945.0,988.0 948.5,992.0 949.5,1004.0 943.5,1004.0 942.5,994.0" fill="#e8141e" />
<rect x="933.7" y="1012.5" width="15.0" height="15.7" fill="#e8141e"/>
<polygon points="933.5,995.5 948.0,995.5 948.0,1012.5 918.0,1012.5" fill="#6c6865" />
<polygon points="1182.7,1007.9 1359.2,998.0 1359.2,1022.7 1182.7,1033.8" fill="#a4a09e" />
<polygon points="1403.6,988.0 1466.0,985.0 1466.0,1012.0 1403.6,1015.3" fill="#b2aeac" opacity="0.75"/>
</g>
</g>
<rect x="828.8" y="544.8" width="637.0" height="503.5" fill="none" stroke="#000" stroke-width="2.5"/>
<text x="1252.5" y="580.0" font-size="45" fill="#ffffff">t = 0 s</text>
<text x="1252.8" y="676.6" font-size="45" fill="#ffffff">t = 1 s</text>
<text x="1252.5" y="775.0" font-size="45" fill="#ffffff">t = 3 s</text>
<text x="1254.3" y="879.0" font-size="45" fill="#ffffff">t = 5 s</text>
<text x="1254.3" y="984.3" font-size="45" fill="#ffffff">t = 6 s</text>
<line x1="915.0" y1="676.0" x2="976.5" y2="676.0" stroke="#ff0000" stroke-width="3.3" stroke-dasharray="13.8 9.85"/>
<line x1="904.0" y1="712.0" x2="982.5" y2="712.0" stroke="#ff0000" stroke-width="3.3" stroke-dasharray="13.8 9.85"/>
<line x1="903.8" y1="674.3" x2="903.8" y2="713.7" stroke="#ff0000" stroke-width="3.3" stroke-dasharray="13.8 9.85"/>
<line x1="980.8" y1="681.0" x2="980.8" y2="713.7" stroke="#ff0000" stroke-width="3.3" stroke-dasharray="13.8 9.85"/>
<line x1="909.3" y1="779.3" x2="1205.3" y2="779.3" stroke="#ff0000" stroke-width="3.3" stroke-dasharray="13.8 9.85"/>
<line x1="905.4" y1="815.4" x2="1202.4" y2="815.4" stroke="#ff0000" stroke-width="3.3" stroke-dasharray="13.8 9.85"/>
<line x1="905.5" y1="785.0" x2="905.5" y2="817.0" stroke="#ff0000" stroke-width="3.3" stroke-dasharray="13.8 9.85"/>
<line x1="1203.6" y1="793.0" x2="1203.6" y2="806.6" stroke="#ff0000" stroke-width="3.3" stroke-dasharray="13.8 9.85"/>
<rect x="1201.9" y="777.7" width="3.4" height="5.0" fill="#ff0000"/>
<line x1="921.9" y1="878.2" x2="1337.0" y2="878.2" stroke="#ff0000" stroke-width="3.3" stroke-dasharray="13.8 9.85"/>
<line x1="912.2" y1="915.2" x2="1344.0" y2="915.2" stroke="#ff0000" stroke-width="3.3" stroke-dasharray="13.8 9.85"/>
<line x1="912.3" y1="879.0" x2="912.3" y2="916.8" stroke="#ff0000" stroke-width="3.3" stroke-dasharray="13.8 9.85"/>
<line x1="1342.3" y1="883.0" x2="1342.3" y2="917.0" stroke="#ff0000" stroke-width="3.3" stroke-dasharray="13.8 9.85"/>
<text x="945.5" y="1010.8" font-size="54" fill="#ffffff" font-weight="bold" textLength="169.5" lengthAdjust="spacingAndGlyphs">De-iced</text>
<rect x="1359.6" y="995.8" width="72.6" height="13.4" fill="#ffffff"/>
<text x="1352.5" y="1038.0" font-size="35.5" fill="#ffffff" textLength="100.0" lengthAdjust="spacingAndGlyphs">50 mm</text>
</svg></body></html>
